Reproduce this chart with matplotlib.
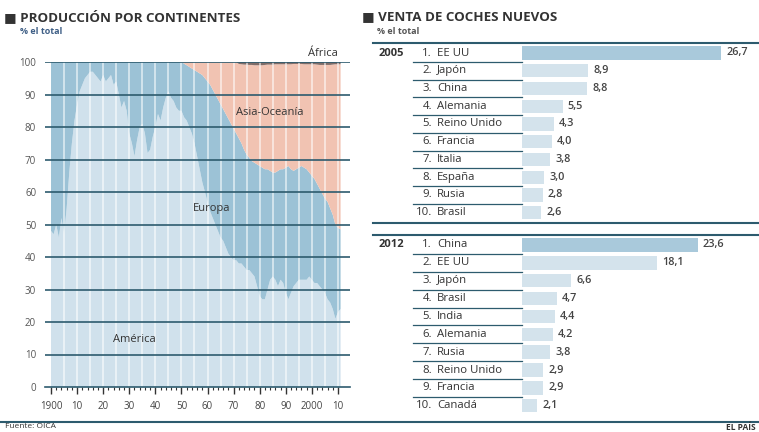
import matplotlib
matplotlib.use('Agg')
import matplotlib.pyplot as plt
from matplotlib.lines import Line2D
from matplotlib.transforms import blended_transform_factory

plt.rcParams['font.family'] = ['Open Sans', 'DejaVu Sans']

# ---- data: production share by continent (% of world total) ----
years = list(range(1900, 2012))
america = [48, 47, 50, 46, 52, 47, 55, 66, 75, 82,
           87, 91, 93, 95, 96, 97, 97, 96, 95, 94,
           96, 94, 95, 96, 93, 94, 90, 86, 88, 85,
           78, 75, 71, 76, 80, 81, 78, 72, 73, 77,
           80, 84, 82, 86, 89, 91, 89, 88, 86, 85,
           85, 83, 82, 80, 78, 75, 71, 67, 63, 60,
           57, 54, 52, 50, 48, 46, 45, 43, 41, 40,
           39, 39, 38, 38, 37, 36, 36, 35, 34, 31,
           28, 27, 27, 30, 33, 34, 33, 31, 33, 32,
           29, 27, 29, 31, 32, 33, 33, 33, 33, 34,
           33, 32, 32, 31, 30, 29, 27, 26, 24, 21,
           23, 24]
europa = [52, 53, 50, 54, 48, 53, 45, 34, 25, 18,
          13, 9, 7, 5, 4, 3, 3, 4, 5, 6,
          4, 6, 5, 4, 7, 6, 10, 14, 12, 15,
          22, 25, 29, 24, 20, 19, 22, 28, 27, 23,
          20, 16, 18, 14, 11, 9, 11, 12, 14, 15,
          15, 16.5, 17, 18.5, 20, 22.5, 26, 29.5, 33, 35,
          37, 39, 39.5, 40, 40.5, 41, 40.5, 41, 41.5, 41,
          40.5, 39, 38.5, 37, 36, 35.5, 34.5, 34.5, 35, 37.5,
          40, 40.5, 40, 37, 33.5, 32, 33, 35.5, 34, 35,
          38.5, 41, 38, 35.5, 35, 34.5, 35, 34.5, 34, 32,
          32, 32, 30.5, 30, 29.5, 29, 30, 29, 29, 29,
          26, 24.5]
asia = [0] * 51 + [
    0.5, 1, 1.5, 2, 2.5, 3, 3.5, 4, 5,
    6, 7, 8.5, 10, 11.5, 13, 14.5, 16, 17.5, 19,
    20.5, 22, 22.9, 24.3, 26.2, 27.7, 28.6, 29.6, 30, 30.5,
    31, 31.5, 32.1, 32.2, 32.7, 33.2, 33.3, 32.8, 32.3, 32.3,
    31.8, 31.3, 32.3, 32.9, 32.4, 31.9, 31.4, 31.8, 32.3, 33.3,
    34.3, 35.3, 36.7, 38.1, 39.6, 41.1, 42.1, 44.1, 46.2, 49.3,
    50.3, 50.8]
africa = [0] * 72 + [
    0.6, 0.7, 0.8, 0.8, 0.9, 0.9, 1.0, 1.0,
    1.0, 1.0, 0.9, 0.8, 0.8, 0.8, 0.7, 0.7, 0.7, 0.7,
    0.7, 0.7, 0.7, 0.6, 0.6, 0.6, 0.6, 0.7, 0.7, 0.7,
    0.7, 0.7, 0.8, 0.9, 0.9, 0.9, 0.9, 0.9, 0.8, 0.7,
    0.7, 0.7]

# ---- data: new car sales (% of world total) ----
rank_2005 = ['EE UU', 'Japón', 'China', 'Alemania', 'Reino Unido',
             'Francia', 'Italia', 'España', 'Rusia', 'Brasil']
sales_2005 = [26.7, 8.9, 8.8, 5.5, 4.3, 4.0, 3.8, 3.0, 2.8, 2.6]
rank_2012 = ['China', 'EE UU', 'Japón', 'Brasil', 'India',
             'Alemania', 'Rusia', 'Reino Unido', 'Francia', 'Canadá']
sales_2012 = [23.6, 18.1, 6.6, 4.7, 4.4, 4.2, 3.8, 2.9, 2.9, 2.1]

W, H = 759, 432
LINE = '#2d5b6e'
TXT = '#333333'


def fx(px):
    return px / W


def fy(py):
    return 1 - py / H


fig = plt.figure(figsize=(W / 100, H / 100), dpi=100)
fig.patch.set_facecolor('white')

# ================= left: production by continent =================
ax = fig.add_axes([fx(44.5), fy(387), 305.2 / W, 325 / H])
ax.stackplot(years, america, europa, asia, africa,
             colors=['#d0e1ec', '#9cc2d6', '#f1c3b2', '#7f6c68'],
             lw=0, zorder=1)
ax.vlines(range(1905, 2011, 5), 0, 100, colors='white', lw=1.2, alpha=0.65, zorder=2)
for v in range(10, 101, 10):
    ax.axhline(v, color=LINE, lw=1.2, zorder=3)
ax.set_xlim(1897.5, 2014.5)
ax.set_ylim(0, 100)
for s in ['top', 'right', 'left']:
    ax.spines[s].set_visible(False)
ax.spines['bottom'].set_color(LINE)
ax.spines['bottom'].set_linewidth(1.2)
ax.set_xticks(range(1900, 2011, 10))
ax.set_xticks(range(1900, 2012, 2), minor=True)
ax.set_xticklabels(['1900', '10', '20', '30', '40', '50', '60', '70',
                    '80', '90', '2000', '10'])
ax.tick_params(axis='x', which='major', length=5, width=1, color=TXT,
               labelsize=7, labelcolor='#444444', pad=5)
ax.tick_params(axis='x', which='minor', length=2.5, width=0.8, color=TXT)
ax.set_yticks(range(0, 101, 10))
ax.tick_params(axis='y', length=0, labelsize=7, labelcolor='#555555', pad=6)

ax.text(2010, 102.6, 'África', ha='right', va='center', fontsize=8, color=TXT)
ax.text(1984, 84.6, 'Asia-Oceanía', ha='center', va='center', fontsize=8, color=TXT)
ax.text(1961.5, 54.8, 'Europa', ha='center', va='center', fontsize=8, color=TXT)
ax.text(1932, 14.5, 'América', ha='center', va='center', fontsize=8, color=TXT)

fig.text(fx(4), fy(17), '■ PRODUCCIÓN POR CONTINENTES', fontsize=9.6,
         fontweight='bold', color=TXT, va='center')
fig.text(fx(20), fy(32), '% el total', fontsize=6.5, fontweight='bold',
         color='#3f5f86', va='center')

# ================= right: new car sales =================
fig.text(fx(362), fy(17), '■ VENTA DE COCHES NUEVOS', fontsize=9.6,
         fontweight='bold', color=TXT, va='center')
fig.text(fx(377), fy(32), '% el total', fontsize=6.5, fontweight='bold',
         color='#555555', va='center')

PXU = 7.47  # pixels per percentage point


def sales_panel(top_px, step, year, names, values):
    n = len(values)
    y0 = top_px - step / 2
    y1 = top_px + step * (n - 1) + step / 2
    a = fig.add_axes([fx(521.7), fy(y1), (W - 521.7) / W, (y1 - y0) / H])
    cols = ['#a9c9db'] + ['#d4e3ec'] * (n - 1)
    a.barh(range(n), values, height=0.75, color=cols, lw=0)
    a.set_xlim(0, (W - 521.7) / PXU)
    a.set_ylim(n - 0.5, -0.5)
    a.axis('off')
    tr = blended_transform_factory(fig.transFigure, a.transData)
    for i, (nm, v) in enumerate(zip(names, values)):
        a.text(fx(432), i, f'{i + 1}.', transform=tr, ha='right', va='center',
               fontsize=8.2, color=TXT)
        a.text(fx(437), i, nm, transform=tr, ha='left', va='center',
               fontsize=8.2, color=TXT)
        a.text(v + 5 / PXU, i, f'{v:.1f}'.replace('.', ','), ha='left',
               va='center', fontsize=7.8, color='#444444', fontweight='semibold')
    for i in range(n - 1):
        a.plot([fx(413), fx(522)], [i + 0.5, i + 0.5], transform=tr,
               color=LINE, lw=0.9, clip_on=False)
    a.text(fx(379), 0, year, transform=tr, ha='left', va='center',
           fontsize=8, fontweight='bold', color=TXT)


sales_panel(53, 17.74, '2005', rank_2005, sales_2005)
sales_panel(245, 17.86, '2012', rank_2012, sales_2012)


def hline(py, x0, x1, lw):
    fig.add_artist(Line2D([fx(x0), fx(x1)], [fy(py), fy(py)],
                          transform=fig.transFigure, color=LINE, lw=lw))


hline(43, 373, W, 1.5)
hline(223.3, 373, W, 1.5)
hline(235, 373, W, 1.5)
hline(421.5, 0, W, 1.5)

fig.text(fx(5), fy(423.5), 'Fuente: OICA', fontsize=6, color=TXT, va='top')
fig.text(fx(W - 3), fy(423.5), 'EL PAÍS', fontsize=6, fontweight='bold',
         color=TXT, va='top', ha='right')

fig.savefig('out.png', dpi=100)
